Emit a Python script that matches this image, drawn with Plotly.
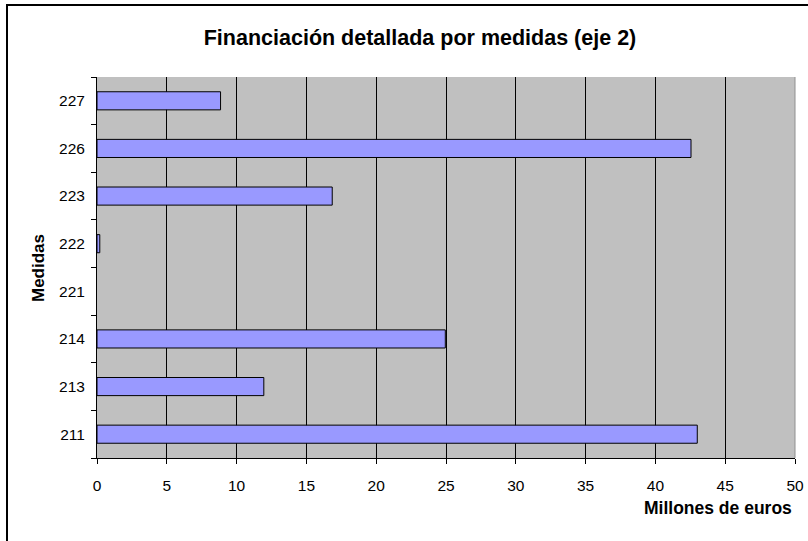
import plotly.graph_objects as go

categories = ["211", "213", "214", "221", "222", "223", "226", "227"]
values = [43.0, 11.95, 24.95, 0.0, 0.2, 16.85, 42.55, 8.85]
x_ticks = [0, 5, 10, 15, 20, 25, 30, 35, 40, 45, 50]

title_text = "Financiación detallada por medidas (eje 2)"
x_title = "Millones de euros"
y_title = "Medidas"

W, H = 808, 541
L, R, T, B = 97, 13, 77, 83
pw = W - L - R
ph = H - T - B

font = "Liberation Sans, Arial, sans-serif"

outline_widths = [1 if v > 0 else 0 for v in values]

fig = go.Figure(go.Bar(
    x=values, y=categories, orientation="h",
    marker=dict(color="#9999FF", line=dict(color="#000000", width=outline_widths)),
    width=0.38,
))

fig.update_layout(
    width=W, height=H,
    margin=dict(l=L, r=R, t=T, b=B, pad=0),
    paper_bgcolor="white",
    plot_bgcolor="#C0C0C0",
    showlegend=False,
    font=dict(family=font, size=15.5, color="black"),
    title=dict(text="<b>" + title_text + "</b>", x=420 / W, xanchor="center",
               y=1 - 37 / H, yanchor="middle",
               font=dict(family=font, size=21.5, color="black")),
)

fig.update_xaxes(
    range=[0, 50], tickvals=x_ticks, ticktext=[str(v) for v in x_ticks],
    showgrid=True, gridcolor="#000000", gridwidth=1,
    showline=True, linecolor="#000000", linewidth=1,
    ticks="outside", ticklen=5, tickcolor="#000000",
    tickfont=dict(family=font, size=15.5), zeroline=False, mirror=False,
    ticklabelstandoff=8, automargin=False,
)
fig.update_yaxes(
    type="category", categoryorder="array", categoryarray=categories,
    range=[-0.5, len(categories) - 0.5],
    tickson="boundaries", ticks="outside", ticklen=5, tickcolor="#000000",
    showline=True, linecolor="#000000", linewidth=1,
    showgrid=False, tickfont=dict(family=font, size=15.5),
    ticklabelstandoff=8, automargin=False,
)

# plot area right border (gray)
fig.add_shape(type="line", xref="paper", yref="paper", x0=1, x1=1, y0=0, y1=1,
              line=dict(color="#909090", width=1))

# chart outer border
fig.add_shape(type="rect", xref="paper", yref="paper",
              x0=(7 - L) / pw, x1=(812 - L) / pw,
              y0=(H - B - 546) / ph, y1=1 + (T - 5) / ph,
              line=dict(color="#000000", width=2), fillcolor="rgba(0,0,0,0)",
              layer="below")

fig.add_annotation(text="<b>" + x_title + "</b>", xref="paper", yref="paper",
                   x=(718 - L) / pw, y=-(508 - (H - B)) / ph,
                   xanchor="center", yanchor="middle", showarrow=False,
                   font=dict(family=font, size=17.5, color="black"))
fig.add_annotation(text="<b>" + y_title + "</b>", xref="paper", yref="paper",
                   x=(38 - L) / pw, y=(H - B - 268) / ph, textangle=-90,
                   xanchor="center", yanchor="middle", showarrow=False,
                   font=dict(family=font, size=17, color="black"))

fig.write_html("out.html",
               config={"displayModeBar": False},
               post_script="document.body.style.margin='0';document.body.style.overflow='hidden';")
